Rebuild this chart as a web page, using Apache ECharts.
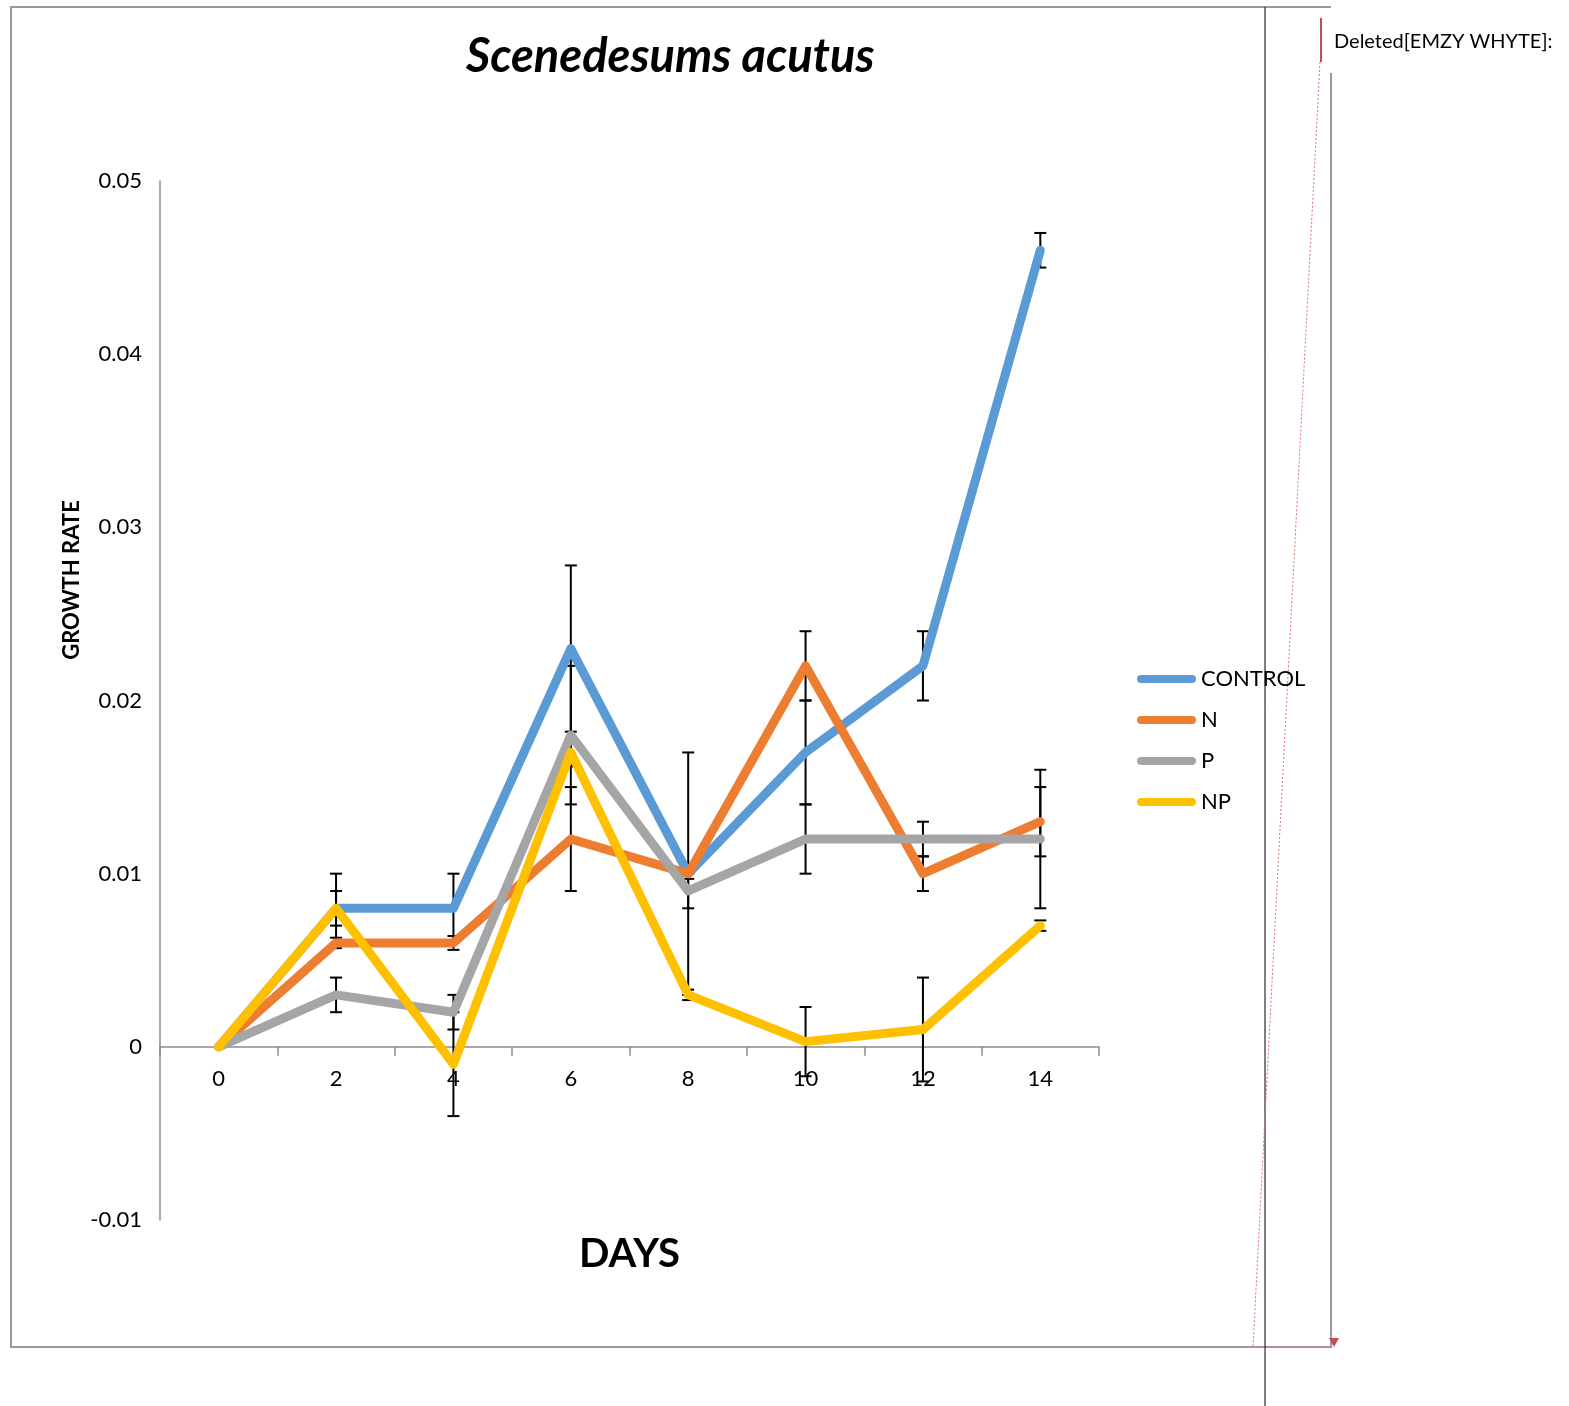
<!DOCTYPE html>
<html>
<head>
<meta charset="utf-8">
<script src="https://cdn.jsdelivr.net/npm/echarts@6/dist/echarts.min.js"></script>
<style>
  html, body { margin: 0; padding: 0; background: #ffffff; }
  #chart { width: 1569px; height: 1406px; }
</style>
</head>
<body>
<div id="chart"></div>
<script>
// ---- data ----
var days = ['0', '2', '4', '6', '8', '10', '12', '14'];
var seriesNames = ['CONTROL', 'N', 'P', 'NP'];
var controlVals = [0, 0.008, 0.008, 0.023, 0.010, 0.017, 0.022, 0.046];
var nVals       = [0, 0.006, 0.006, 0.012, 0.010, 0.022, 0.010, 0.013];
var pVals       = [0, 0.003, 0.002, 0.018, 0.009, 0.012, 0.012, 0.012];
var npVals      = [0, 0.008, -0.001, 0.017, 0.003, 0.0003, 0.001, 0.007];
var controlErr  = [0, 0.001, 0.002, 0.0048, 0.007, 0.003, 0.002, 0.001];
var nErr        = [0, 0.0003, 0.0004, 0.003, 0.0003, 0.002, 0.001, 0.002];
var pErr        = [0, 0.001, 0.001, 0.004, 0.001, 0.002, 0.001, 0.004];
var npErr       = [0, 0.002, 0.003, 0.0008, 0.0003, 0.002, 0.003, 0.0003];
var yTicks = { min: -0.01, max: 0.05, interval: 0.01 };

var colors = ['#5B9BD5', '#ED7D31', '#A5A5A5', '#FFC000'];
var FONT = 'Lato, "Open Sans", sans-serif';

var allVals = [controlVals, nVals, pVals, npVals];
var allErr = [controlErr, nErr, pErr, npErr];

// grid geometry
var GRID = { left: 160, right: 470, top: 181, bottom: 186 };
var CH = 1406;
var gridH = CH - GRID.top - GRID.bottom;
// place the category axis on the value 0 line (offset from the grid's bottom)
var zeroY = GRID.top + (yTicks.max - 0) / (yTicks.max - yTicks.min) * gridH;
var xAxisOffset = zeroY - (GRID.top + gridH);

var chart = echarts.init(document.getElementById('chart'), null, { renderer: 'canvas' });

var series = [];
// error bars (drawn beneath the lines)
allVals.forEach(function (vals, si) {
  var data = vals.map(function (v, i) { return [i, v, allErr[si][i]]; });
  series.push({
    type: 'custom',
    name: seriesNames[si] + ' err',
    z: 1,
    silent: true,
    encode: { x: 0, y: 1 },
    data: data,
    renderItem: function (params, api) {
      var idx = api.value(0), v = api.value(1), e = api.value(2);
      if (!e) return null;
      var top = api.coord([idx, v + e]);
      var bot = api.coord([idx, v - e]);
      var hw = 6;
      var st = { stroke: '#000000', lineWidth: 2 };
      return {
        type: 'group',
        children: [
          { type: 'line', shape: { x1: top[0], y1: top[1], x2: bot[0], y2: bot[1] }, style: st },
          { type: 'line', shape: { x1: top[0] - hw, y1: top[1], x2: top[0] + hw, y2: top[1] }, style: st },
          { type: 'line', shape: { x1: bot[0] - hw, y1: bot[1], x2: bot[0] + hw, y2: bot[1] }, style: st }
        ]
      };
    }
  });
});
allVals.forEach(function (vals, si) {
  series.push({
    type: 'line',
    name: seriesNames[si],
    data: vals,
    z: 3 + si,
    symbol: 'none',
    color: colors[si],
    lineStyle: { width: 9, color: colors[si], cap: 'round', join: 'round' },
    itemStyle: { color: colors[si] }
  });
});

var option = {
  animation: false,
  backgroundColor: '#ffffff',
  title: {
    text: 'Scenedesums acutus',
    left: 466,
    top: 33,
    padding: 0,
    textStyle: { fontFamily: FONT, fontSize: 47, fontWeight: 'bold', fontStyle: 'italic', color: '#000000' }
  },
  legend: {
    data: seriesNames,
    orient: 'vertical',
    left: 1137,
    top: 668,
    padding: 0,
    itemWidth: 59,
    itemHeight: 8,
    itemGap: 19,
    icon: 'path://M4,0H55A4,4,0,0,1,55,8H4A4,4,0,0,1,4,0Z',
    textStyle: { fontFamily: FONT, fontSize: 22, lineHeight: 22, color: '#000000' }
  },
  grid: { left: GRID.left, right: GRID.right, top: GRID.top, bottom: GRID.bottom,
          containLabel: false, outerBoundsMode: 'none' },
  xAxis: {
    type: 'category',
    data: days,
    boundaryGap: true,
    position: 'bottom',
    offset: xAxisOffset,
    axisLine: { onZero: false, lineStyle: { color: '#8c8c8c', width: 1.5 } },
    axisTick: { show: true, alignWithLabel: false, length: 9, lineStyle: { color: '#8c8c8c', width: 1.5 } },
    axisLabel: { margin: 21, fontFamily: FONT, fontSize: 22, color: '#000000' },
    name: 'DAYS',
    nameLocation: 'middle',
    nameGap: 187,
    nameTextStyle: { fontFamily: FONT, fontSize: 40, fontWeight: 'bold', color: '#000000' },
    splitLine: { show: false }
  },
  yAxis: {
    type: 'value',
    min: yTicks.min,
    max: yTicks.max,
    interval: yTicks.interval,
    axisLine: { show: true, onZero: false, lineStyle: { color: '#8c8c8c', width: 1.5 } },
    axisTick: { show: false },
    splitLine: { show: false },
    axisLabel: {
      margin: 18,
      fontFamily: FONT, fontSize: 22, color: '#000000',
      formatter: function (v) { return String(Math.round(v * 100) / 100); }
    }
  },
  graphic: [
    {
      type: 'text', x: 72, y: 580, rotation: Math.PI / 2,
      style: { text: 'GROWTH RATE', fontFamily: FONT, fontSize: 22, fontWeight: 'bold', fill: '#000000',
               align: 'center', verticalAlign: 'middle' }
    },
    // page frame
    {
      type: 'polyline', silent: true,
      shape: { points: [[1331, 73], [1331, 1347], [11, 1347], [11, 7], [1331, 7]] },
      style: { stroke: '#9a9a9a', lineWidth: 2, fill: null }
    },
    {
      type: 'line', silent: true,
      shape: { x1: 1265, y1: 7, x2: 1265, y2: 1406 },
      style: { stroke: '#000000', lineWidth: 1 }
    },
    {
      type: 'line', silent: true,
      shape: { x1: 1321, y1: 18, x2: 1321, y2: 62 },
      style: { stroke: '#c0504d', lineWidth: 2 }
    },
    {
      type: 'polyline', silent: true,
      shape: { points: [[1320, 62], [1253, 1347], [1335, 1347]] },
      style: { stroke: '#e07070', lineWidth: 1, lineDash: [2, 2], fill: null }
    },
    {
      type: 'polygon', silent: true,
      shape: { points: [[1329, 1338], [1339, 1338], [1334, 1347]] },
      style: { fill: '#c0504d' }
    },
    {
      type: 'text', x: 1334, y: 42,
      style: { text: 'Deleted[EMZY WHYTE]:', fontFamily: FONT, fontSize: 20, fill: '#000000',
               align: 'left', verticalAlign: 'middle' }
    }
  ],
  series: series
};
chart.setOption(option);
</script>
</body>
</html>
